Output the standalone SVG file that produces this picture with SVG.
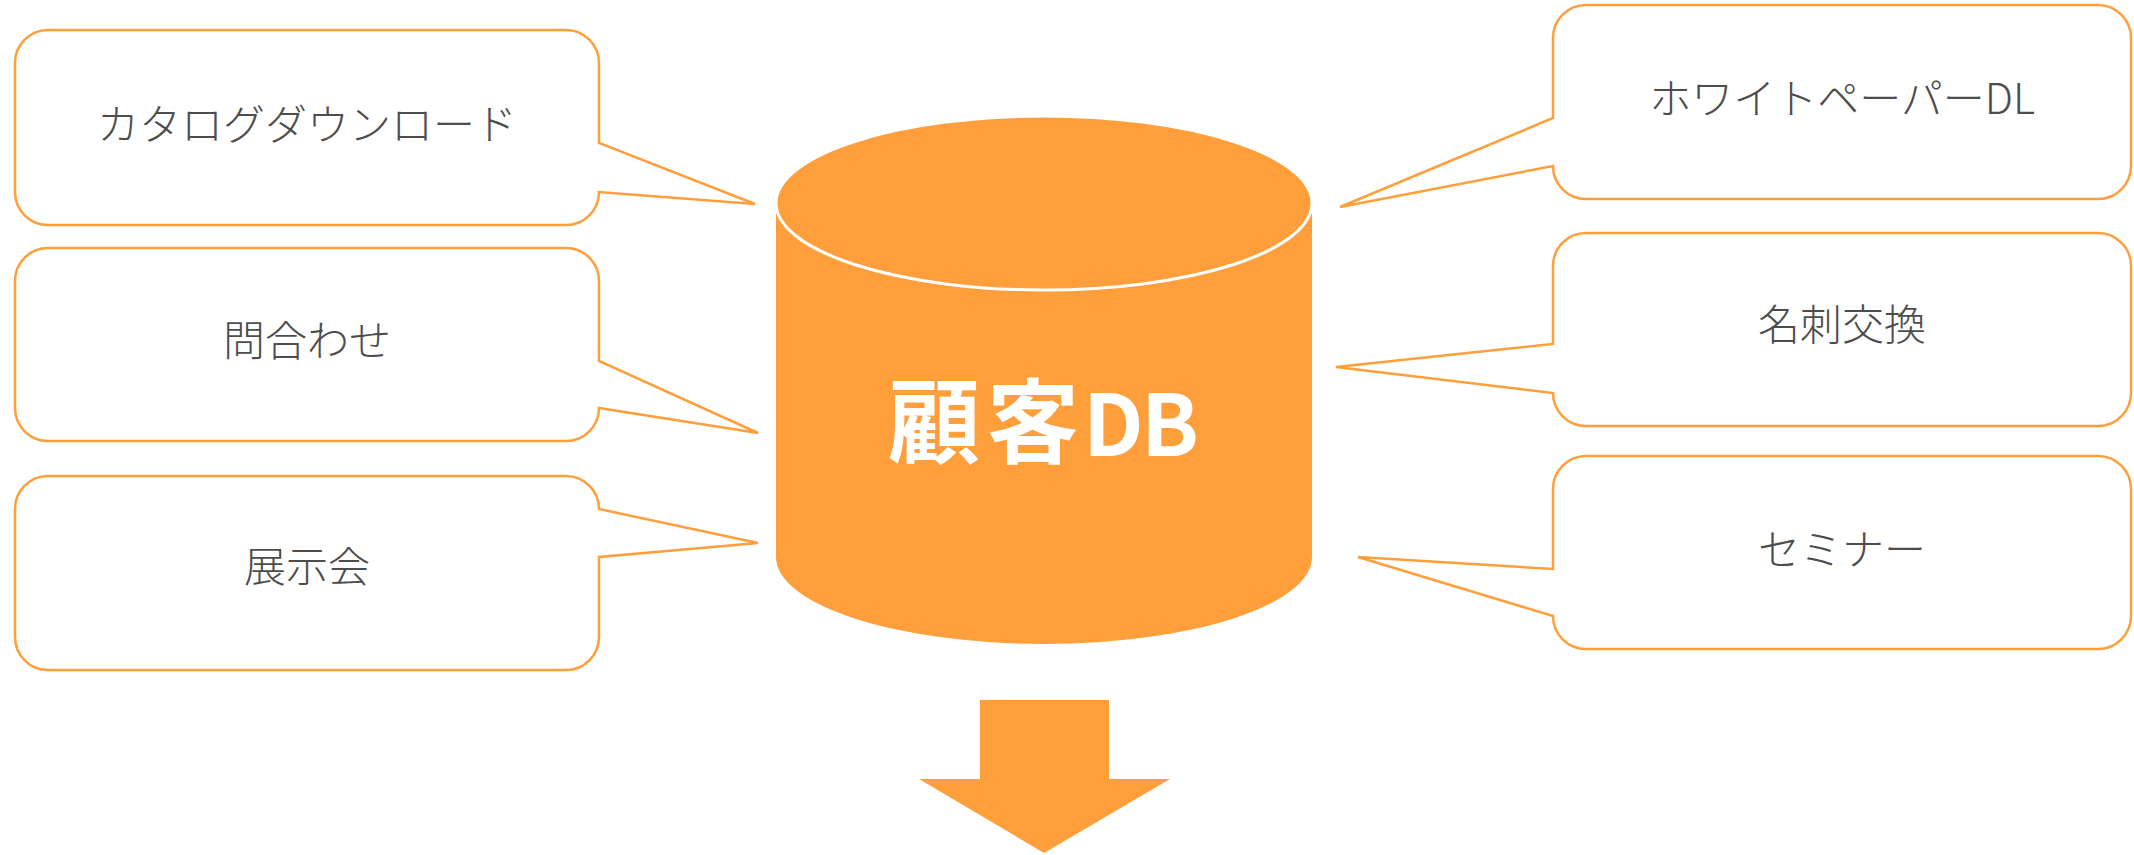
<svg xmlns="http://www.w3.org/2000/svg" width="2134" height="855" viewBox="0 0 2134 855">
<style>
.callout{fill:#ffffff;stroke:#FF9F3B;stroke-width:2.5;stroke-linejoin:miter}
.lbl{font-family:"Noto Sans CJK JP","Noto Sans",sans-serif;font-size:42px;font-weight:300;fill:#4d4d4d;text-anchor:middle}
.db{fill:#FF9F3B}
.dbtxt{font-family:"Noto Sans CJK JP","Noto Sans",sans-serif;font-size:92px;font-weight:700;fill:#ffffff}
</style>
<rect width="2134" height="855" fill="#ffffff"/>
<g id="catalog">
<path class="callout" d="M48,30 H566 A33,33 0 0 1 599,63 V143 L755,204 L599,192 A33,33 0 0 1 566,225 H48 A33,33 0 0 1 15,192 V63 A33,33 0 0 1 48,30 Z"/>
<text class="lbl" x="307" y="140">カタログダウンロード</text>
</g>
<g id="inquiry">
<path class="callout" d="M48,248 H566 A33,33 0 0 1 599,281 V361 L758,433 L599,408 A33,33 0 0 1 566,441 H48 A33,33 0 0 1 15,408 V281 A33,33 0 0 1 48,248 Z"/>
<text class="lbl" x="307" y="356">問合わせ</text>
</g>
<g id="exhibition">
<path class="callout" d="M48,476 H566 A33,33 0 0 1 599,509 L758,543 L599,557 V637 A33,33 0 0 1 566,670 H48 A33,33 0 0 1 15,637 V509 A33,33 0 0 1 48,476 Z"/>
<text class="lbl" x="307" y="582">展示会</text>
</g>
<g id="whitepaper">
<path class="callout" d="M1586,5 H2098 A33,33 0 0 1 2131,38 V166 A33,33 0 0 1 2098,199 H1586 A33,33 0 0 1 1553,166 L1340,207 L1553,118 V38 A33,33 0 0 1 1586,5 Z"/>
<text class="lbl" x="1842" y="114">ホワイトペーパーDL</text>
</g>
<g id="meishi">
<path class="callout" d="M1586,233 H2098 A33,33 0 0 1 2131,266 V393 A33,33 0 0 1 2098,426 H1586 A33,33 0 0 1 1553,393 L1336,367 L1553,344 V266 A33,33 0 0 1 1586,233 Z"/>
<text class="lbl" x="1842" y="340">名刺交換</text>
</g>
<g id="seminar">
<path class="callout" d="M1586,456 H2098 A33,33 0 0 1 2131,489 V616 A33,33 0 0 1 2098,649 H1586 A33,33 0 0 1 1553,616 L1358,557 L1553,569 V489 A33,33 0 0 1 1586,456 Z"/>
<text class="lbl" x="1842" y="565">セミナー</text>
</g>
<g id="customer-db">
<path class="db" d="M776,203 V557 A268,87 0 0 0 1312,557 V203 Z"/>
<ellipse class="db" cx="1044" cy="203" rx="268" ry="87" stroke="#ffffff" stroke-width="3"/>
<text class="dbtxt" y="456"><tspan x="888">顧</tspan><tspan x="987">客</tspan><tspan x="1083" font-size="85">D</tspan><tspan x="1141" font-size="85">B</tspan></text>
</g>
<g id="connectors">
<polygon class="db" points="980,700 1109,700 1109,779 1170,779 1044,853 919,779 980,779"/>
</g>
</svg>
